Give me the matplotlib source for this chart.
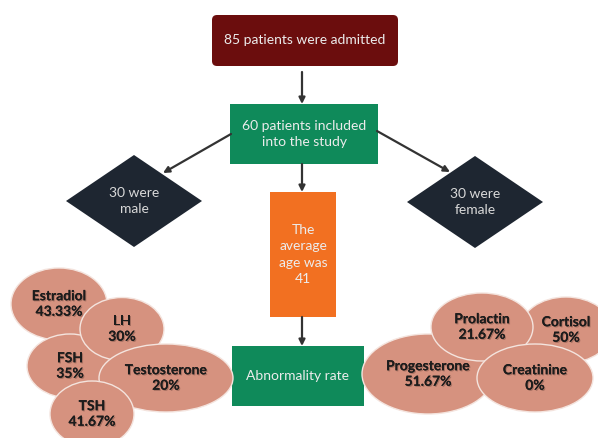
import matplotlib.pyplot as plt
from matplotlib.patches import FancyBboxPatch, Rectangle, Polygon, Ellipse
import matplotlib.patheffects as pe

plt.rcParams['font.family'] = ['Lato', 'DejaVu Sans']

# flow texts
top_text = "85 patients were admitted"
incl_text = "60 patients included\ninto the study"
male_text = "30 were\nmale"
female_text = "30 were\nfemale"
age_text = "The\naverage\nage was\n41"
abn_text = "Abnormality rate"

# abnormality rates (%)
left_names = ['Estradiol', 'FSH', 'LH', 'Testosterone', 'TSH']
left_rates = ['43.33%', '35%', '30%', '20%', '41.67%']
right_names = ['Cortisol', 'Progesterone', 'Prolactin', 'Creatinine']
right_rates = ['50%', '51.67%', '21.67%', '0%']

# layout (pixel space of the figure)
left_pos = [(59, 304, 96, 72), (70, 366, 86, 64), (122, 329, 84, 63),
            (166, 378, 134, 68), (92, 414, 84, 66)]
right_pos = [(566, 330, 92, 66), (428, 374, 132, 80), (482, 327, 102, 68),
             (535, 378, 116, 68)]

fig = plt.figure(figsize=(5.98, 4.38), dpi=100)
ax = fig.add_axes([0, 0, 1, 1])
ax.set_xlim(0, 598)
ax.set_ylim(438, 0)
ax.axis('off')

txt_col = '#ececec'


def box(x0, y0, x1, y1, color, text, rounded=False, fs=10):
    if rounded:
        p = FancyBboxPatch((x0, y0), x1 - x0, y1 - y0, boxstyle="round,pad=0,rounding_size=5",
                           fc=color, ec='none')
    else:
        p = Rectangle((x0, y0), x1 - x0, y1 - y0, fc=color, ec='none')
    ax.add_patch(p)
    ax.text((x0 + x1) / 2, (y0 + y1) / 2, text, ha='center', va='center', color=txt_col,
            fontsize=fs, linespacing=1.45)


def arrow(x0, y0, x1, y1):
    ax.annotate('', xy=(x1, y1), xytext=(x0, y0),
                arrowprops=dict(arrowstyle='-|>', color='#333333', lw=1.6,
                                mutation_scale=9, shrinkA=0, shrinkB=0))


def diamond(cx, cy, hw, hh, text):
    ax.add_patch(Polygon([(cx, cy - hh), (cx + hw, cy), (cx, cy + hh), (cx - hw, cy)],
                         closed=True, fc='#1e2631', ec='none'))
    ax.text(cx, cy, text, ha='center', va='center', color='#d8d8d8', fontsize=10,
            linespacing=1.45)


box(212, 15, 398, 66, '#6b0d0d', top_text, rounded=True)
arrow(302, 72, 302, 104)
box(230, 104, 378, 164, '#0f8a5a', incl_text)
arrow(231, 134, 163, 173)
arrow(377, 131, 450, 172)
diamond(134, 201, 68, 46, male_text)
diamond(475, 202, 68, 46, female_text)
arrow(302, 164, 302, 192)
box(270, 192, 336, 317, '#f27021', age_text)
arrow(302, 317, 302, 346)
box(232, 346, 364, 406, '#0f8a5a', abn_text)

shadow = [pe.withSimplePatchShadow(offset=(0.8, -0.8), shadow_rgbFace='#7a5045', alpha=0.5),
          pe.Normal()]
for names, rates, pos in [(left_names, left_rates, left_pos),
                          (right_names, right_rates, right_pos)]:
    for n, r, (cx, cy, w, h) in zip(names, rates, pos):
        ax.add_patch(Ellipse((cx, cy), w, h, fc='#d6927f', ec='#f4e4de', lw=1.0))
        ax.text(cx, cy, n + "\n" + r, ha='center', va='center', color='#1c1c1c',
                fontsize=10, fontweight='bold', linespacing=1.35, path_effects=shadow)

fig.savefig('out.png', dpi=100)
